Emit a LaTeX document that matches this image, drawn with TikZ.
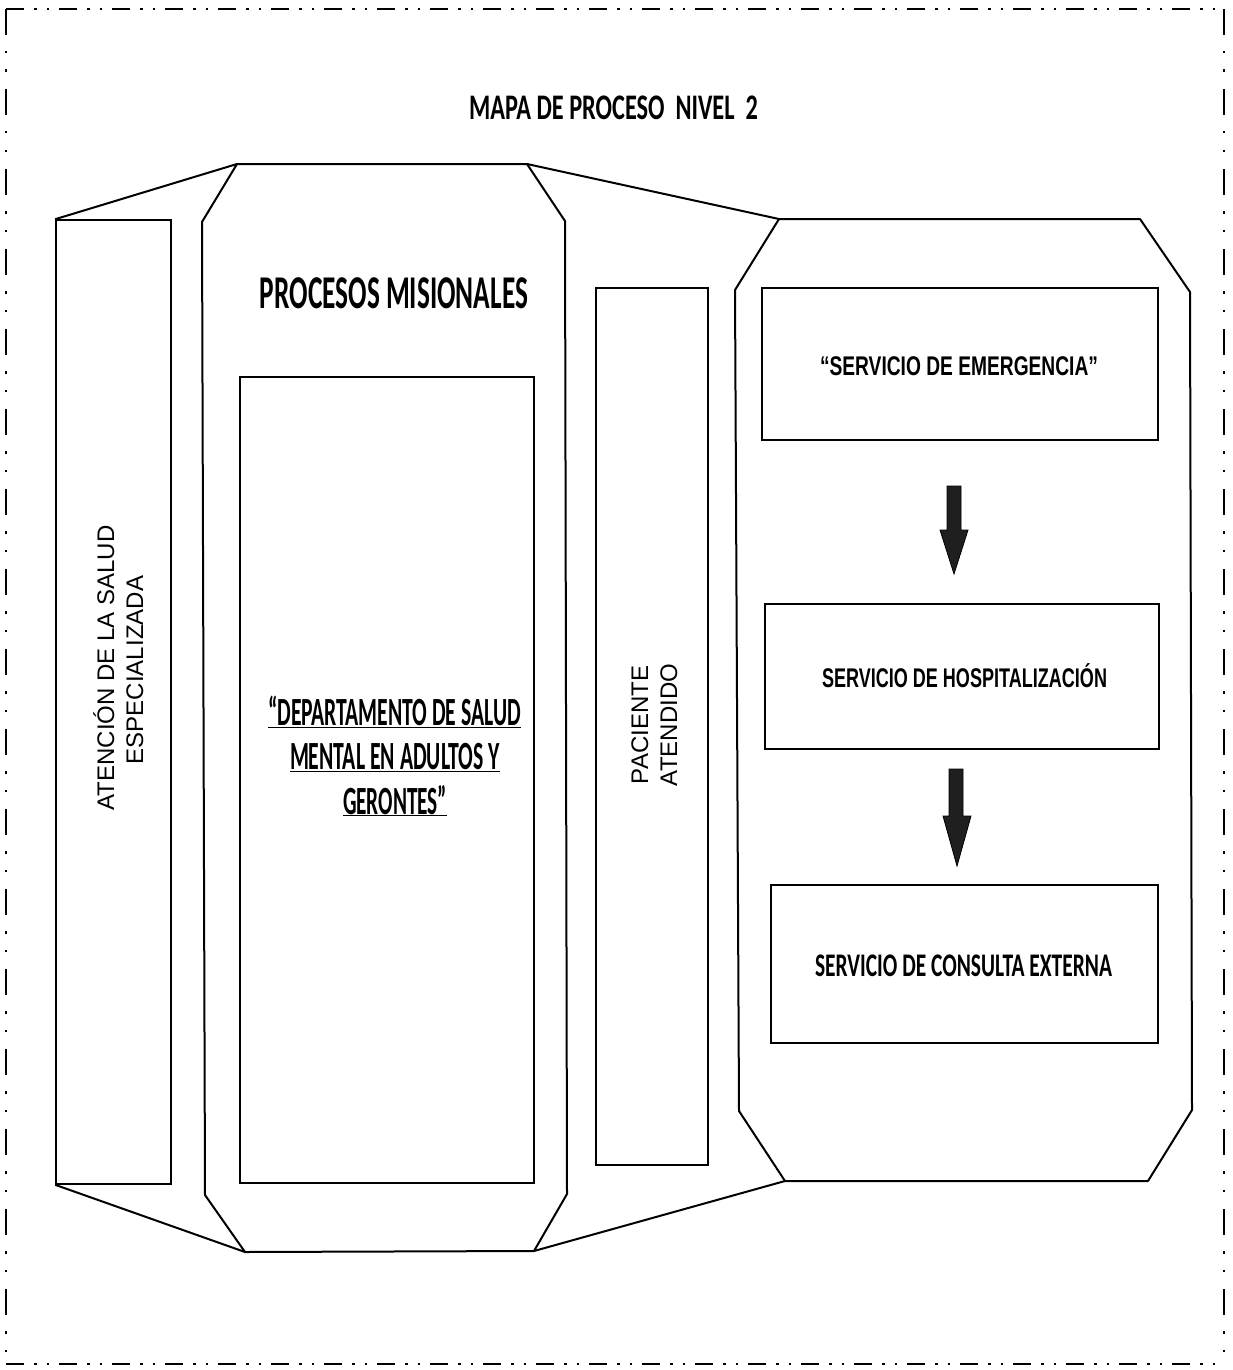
\documentclass[tikz,border=0pt]{standalone}
\usepackage{fontspec}
\usepackage{graphicx}
\newfontfamily\calfont{Carlito}
\newfontfamily\arfont{Liberation Sans}
% width-fit text: #1 target width, #2 font size, #3 text
\newcommand{\wfit}[3]{\resizebox{#1pt}{\height}{\fontsize{#2}{#2}\selectfont #3}}
\begin{document}
\begin{tikzpicture}[x=1pt,y=-1pt,
  outl/.style={draw=black,line width=2pt,line join=round},
  box/.style={draw=black,line width=1.6pt,rectangle,inner sep=0pt},
  conn/.style={draw=black,line width=2pt},
  lbl/.style={inner sep=0pt,anchor=base},
  rlbl/.style={inner sep=0pt,anchor=base,rotate=90,font=\arfont\fontsize{24}{24}\selectfont},
  blockarrow/.style={fill=black!88,draw=black,line width=0.8pt,line join=miter},
  hborder/.style={line width=2.8pt,dash pattern=on 18pt off 10pt on 2.5pt off 10pt on 2.5pt off 10pt},
  vborder/.style={line width=2.8pt,dash pattern=on 26pt off 16pt on 2.5pt off 16pt on 2.5pt off 17pt}]
\useasboundingbox (0,0) rectangle (1232,1370);
% outer border
\draw[hborder] (6,9) -- (1224,9);
\draw[hborder] (6,1364) -- (1224,1364);
\draw[vborder] (6,9) -- (6,1364);
\draw[vborder] (1224,9) -- (1224,1364);

% title
\node[lbl] (title) at (613.5,120) {\calfont\bfseries\wfit{289}{36}{MAPA DE PROCESO\ \ NIVEL\ \ 2}};

% left column rectangle
\node[box,minimum width=115pt,minimum height=964pt] (L) at (113.5,702) {};
\node[rlbl] (at1) at (114,668) {ATENCIÓN DE LA SALUD};
\node[rlbl] (at2) at (143,670) {ESPECIALIZADA};

% central octagon
\coordinate (o1a) at (237,164);
\coordinate (o1b) at (527,164);
\coordinate (o1c) at (565,221);
\coordinate (o1d) at (567,1194);
\coordinate (o1e) at (534,1251);
\coordinate (o1f) at (245,1252);
\coordinate (o1g) at (205,1195);
\coordinate (o1h) at (202,222);
\draw[outl] (o1a) -- (o1b) -- (o1c) -- (o1d) -- (o1e) -- (o1f) -- (o1g) -- (o1h) -- cycle;
\node[lbl] (pm) at (394,308) {\calfont\bfseries\wfit{268}{47}{PROCESOS MISIONALES}};
\node[box,minimum width=294pt,minimum height=806pt] (D) at (387,780) {};
\node[lbl] (d1) at (394.5,725) {\calfont\bfseries\wfit{253}{40}{\underline{“DEPARTAMENTO DE SALUD}}};
\node[lbl] (d2) at (395,769) {\calfont\bfseries\wfit{210}{40}{\underline{MENTAL EN ADULTOS Y}}};
\node[lbl] (d3) at (395,814) {\calfont\bfseries\wfit{104}{40}{\underline{GERONTES”}}};

% paciente atendido
\node[box,minimum width=112pt,minimum height=877pt] (P) at (652,726.5) {};
\node[rlbl] (pa1) at (648,725) {PACIENTE};
\node[rlbl] (pa2) at (677,725) {ATENDIDO};

% right octagon
\coordinate (o2a) at (779,219);
\coordinate (o2b) at (1140,219);
\coordinate (o2c) at (1190,292);
\coordinate (o2d) at (1192,1110);
\coordinate (o2e) at (1148,1181);
\coordinate (o2f) at (785,1181);
\coordinate (o2g) at (739,1111);
\coordinate (o2h) at (735,290);
\draw[outl] (o2a) -- (o2b) -- (o2c) -- (o2d) -- (o2e) -- (o2f) -- (o2g) -- (o2h) -- cycle;

% connectors
\draw[conn] (L.north west) -- (o1a);
\draw[conn] (o1b) -- (o2a);
\draw[conn] (L.south west) -- (o1f);
\draw[conn] (o1e) -- (o2f);

% service boxes
\node[box,minimum width=396pt,minimum height=152pt] (S1) at (960,364) {};
\node[lbl] (s1t) at (959,375) {\arfont\bfseries\wfit{278}{27}{“SERVICIO DE EMERGENCIA”}};
\node[box,minimum width=394pt,minimum height=145pt] (S2) at (962,676.5) {};
\node[lbl] (s2t) at (964.5,687) {\arfont\bfseries\wfit{285}{27}{SERVICIO DE HOSPITALIZACIÓN}};
\node[box,minimum width=387pt,minimum height=158pt] (S3) at (964.5,964) {};
\node[lbl] (s3t) at (963.5,976) {\calfont\bfseries\wfit{297}{33}{SERVICIO DE CONSULTA EXTERNA}};

% block arrows
\filldraw[blockarrow] (947,486) -- (961,486) -- (961,530) -- (968,530) -- (954,574) -- (940,530) -- (947,530) -- cycle;
\filldraw[blockarrow] (949,769) -- (963,769) -- (963,816) -- (971,816) -- (957,866) -- (943,816) -- (949,816) -- cycle;
\end{tikzpicture}
\end{document}
